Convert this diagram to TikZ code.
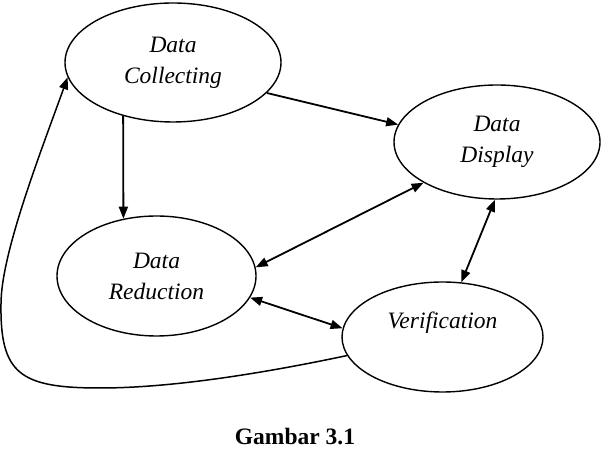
\documentclass[tikz,border=0pt]{standalone}
\usepackage{fontspec}
\setmainfont{Liberation Serif}
\usetikzlibrary{shapes.geometric, arrows.meta}

\begin{document}
\begin{tikzpicture}[x=1pt,y=1pt,>={Triangle[length=12pt,width=9pt]},
        every node/.style={font=\fontsize{23.5}{31}\selectfont},
        stage/.style={ellipse,draw,line width=1.4pt,inner sep=0pt,align=center,font=\fontsize{23.5}{31}\selectfont\itshape},
        flow/.style={line width=1.8pt}]
    \useasboundingbox (0,0) rectangle (604,454);

    \node[stage,minimum width=216,minimum height=119] (col) at (173,391.5) {Data\\Collecting};
    \node[stage,minimum width=206,minimum height=114] (dis) at (497,312) {Data\\Display};
    \node[stage,minimum width=199,minimum height=120] (red) at (156.5,178) {Data\\Reduction};
    \node[stage,minimum width=201,minimum height=110,
        label={[font=\fontsize{23.5}{31}\selectfont\itshape,yshift=14.5pt]center:Verification}] (ver) at (442.5,117) {};
    \node[font=\fontsize{23.5}{31}\selectfont\bfseries,anchor=base] (cap) at (295,9) {Gambar 3.1};

    \path[flow,->] (col.227) edge (red.120)
                   (col.342) edge (dis.170);
    \path[flow,<->] (dis.209) edge (red.5)
                    (dis.268) edge (ver.71)
                    (red.347) edge (ver.175);

    % loop back from verification to data collecting
    \draw[line width=1.5pt,->] (ver.191) .. controls (260,80) and (170,66) .. (100,66)
        .. controls (20,66) and (0,80) .. (1,150)
        .. controls (1,200) and (40,300) .. (col.188);
\end{tikzpicture}
\end{document}
